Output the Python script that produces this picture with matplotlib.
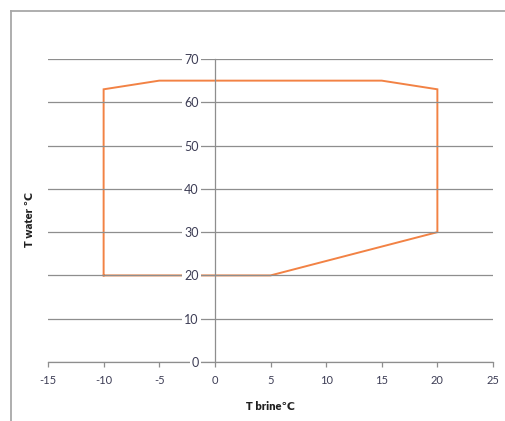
import matplotlib
matplotlib.use("Agg")
import matplotlib.pyplot as plt
from matplotlib.lines import Line2D

# Operating envelope (T brine, T water)
brine = [-10, -10, -5, 15, 20, 20, 5, -10]
water = [20, 63, 65, 65, 63, 30, 20, 20]

xticks = [-15, -10, -5, 0, 5, 10, 15, 20, 25]
yticks = [0, 10, 20, 30, 40, 50, 60, 70]
xlabel = "T brine\u2103"
ylabel = "T water \u2103"

plt.rcParams['font.family'] = ['Lato', 'DejaVu Sans']
plt.rcParams['axes.unicode_minus'] = False

W, H = 506, 421
fig = plt.figure(figsize=(W / 100, H / 100), dpi=100)
fig.patch.set_facecolor('white')

# page frame
fig.add_artist(Line2D([11 / W, 1], [1 - 11 / H, 1 - 11 / H], transform=fig.transFigure,
                      color='#a8a8a8', lw=1.3))
fig.add_artist(Line2D([11 / W, 11 / W], [0, 1 - 11 / H], transform=fig.transFigure,
                      color='#a8a8a8', lw=1.3))

ax = fig.add_axes([48 / W, (H - 362) / H, 445 / W, 303 / H])
ax.patch.set_visible(False)

ax.plot(brine, water, color='#F28244', lw=1.4, zorder=2, solid_joinstyle='miter')

ax.set_xlim(-15, 25)
ax.set_ylim(0, 70)
ax.set_xticks(xticks)
ax.set_yticks(yticks)

ax.set_axisbelow(False)
ax.grid(axis='y', color='#8e8e8e', lw=0.9)

for s in ['top', 'right']:
    ax.spines[s].set_visible(False)
ax.spines['left'].set_position(('data', 0))
ax.spines['left'].set_color('#8e8e8e')
ax.spines['left'].set_linewidth(0.9)
ax.spines['bottom'].set_color('#8e8e8e')
ax.spines['bottom'].set_linewidth(0.9)

lab_color = '#3d3d55'
ax.tick_params(axis='y', length=0, pad=11.5, labelsize=9, labelcolor=lab_color)
ax.tick_params(axis='x', direction='out', length=3.5, width=0.9, color='#8e8e8e',
               pad=6, labelsize=8, labelcolor=lab_color)

for lab in ax.get_yticklabels():
    lab.set_bbox(dict(facecolor='white', edgecolor='none', pad=1.5))

ax.set_xlabel(xlabel, fontsize=8, fontweight='heavy', color='#202020')
ax.set_ylabel(ylabel, fontsize=8, fontweight='heavy', color='#202020')
ax.xaxis.set_label_coords(0.501, -0.13)
ax.yaxis.set_label_coords(-0.029, 0.47)

fig.savefig('out.png', dpi=100, facecolor='white')
